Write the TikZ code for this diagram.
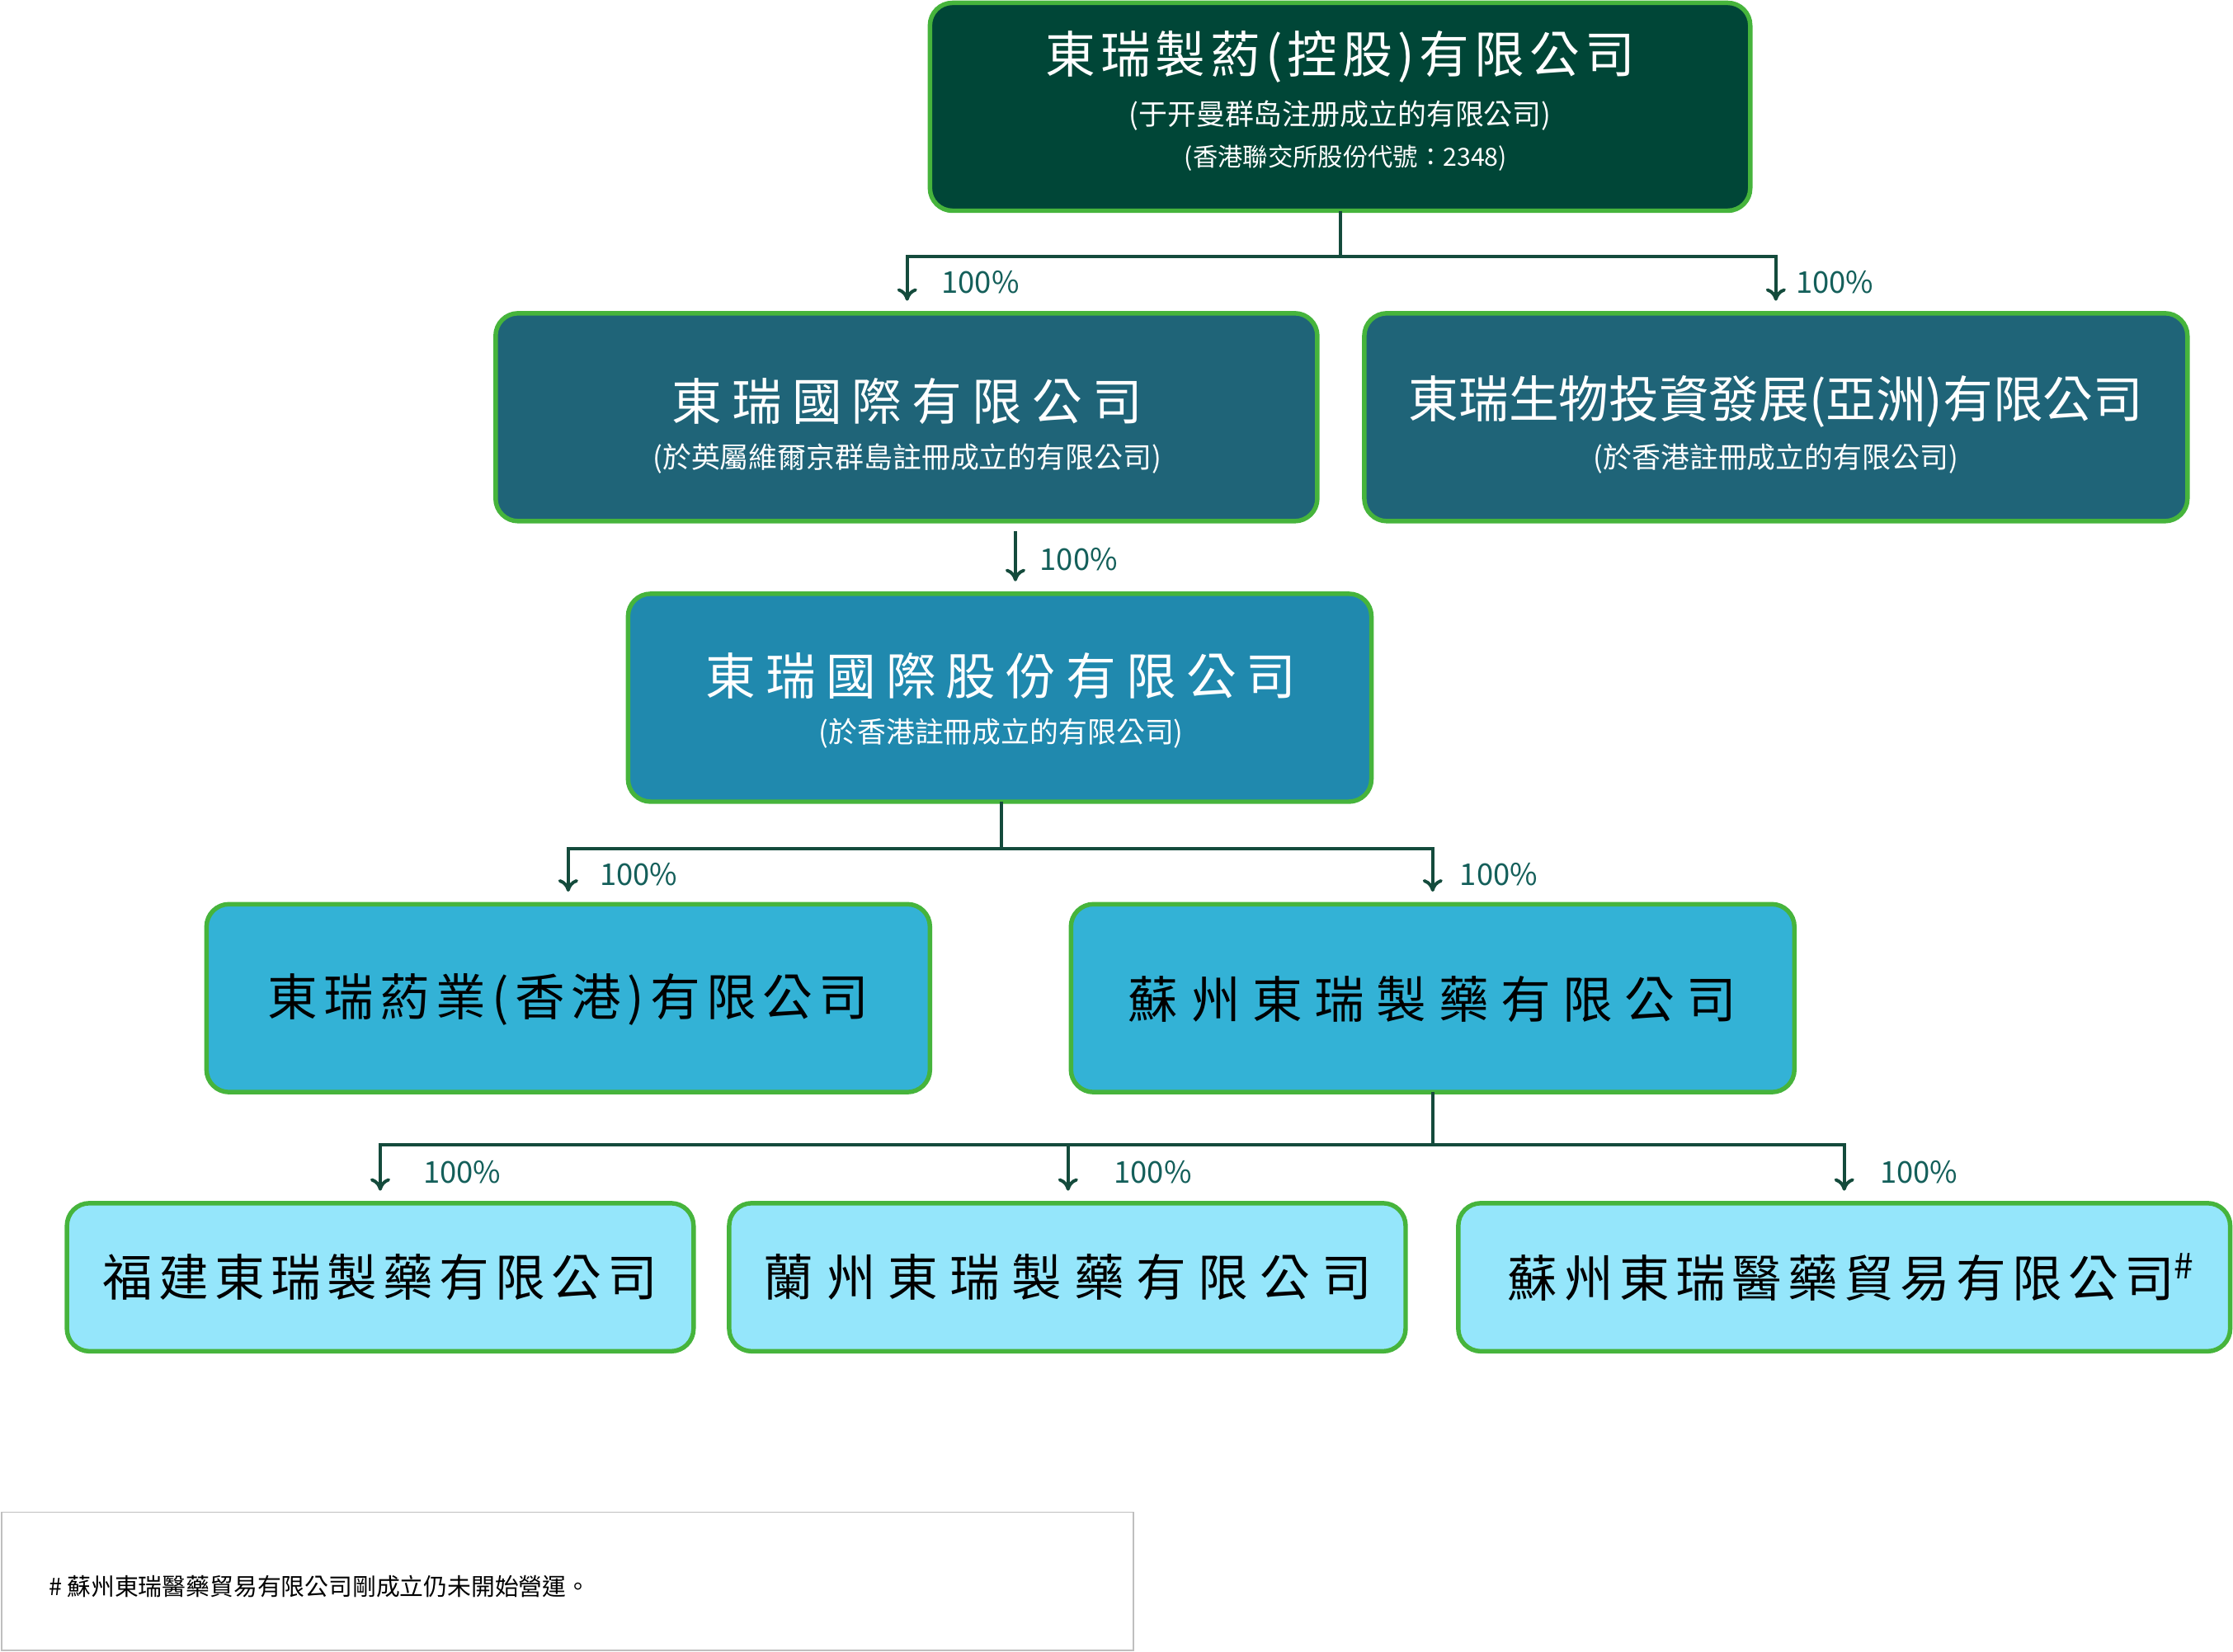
\documentclass[tikz,border=0pt]{standalone}
\usepackage{fontspec}
\newfontfamily\cjk{Noto Sans CJK TC}
\newfontfamily\cjkwide[LetterSpace=24]{Noto Sans CJK TC}
\newfontfamily\cjkmid[LetterSpace=20]{Noto Sans CJK TC}
\newfontfamily\cjksome[LetterSpace=12]{Noto Sans CJK TC}
\newfontfamily\cjktop[LetterSpace=10]{Noto Sans CJK TC}
\setmainfont{Noto Sans CJK TC}
\usetikzlibrary{arrows.meta}

\definecolor{lvA}{RGB}{0,70,55}
\definecolor{lvB}{RGB}{31,100,120}
\definecolor{lvC}{RGB}{32,137,174}
\definecolor{lvD}{RGB}{51,178,214}
\definecolor{lvE}{RGB}{149,230,251}
\definecolor{rim}{RGB}{70,180,60}
\definecolor{wire}{RGB}{20,75,60}
\definecolor{pct}{RGB}{20,95,90}

\tikzset{
  corp/.style={draw=rim, line width=1.8pt, rounded corners=9pt, align=center},
  arr/.style={draw=wire, line width=1.3pt, -{To[length=5pt,width=8pt]}, shorten >=5pt},
  wire/.style={draw=wire, line width=1.3pt},
  share/.style={text=pct, font=\cjk\fontsize{12}{12}\selectfont, anchor=west},
}

\begin{document}
\begin{tikzpicture}[x=0.02cm, y=-0.02cm]
  \useasboundingbox (0,0) rectangle (1568,1160);

  % Level 1
  \draw[corp, fill=lvA] (653,2) rectangle (1229,148);
  \node[text=white] at (941,40) {\cjktop\fontsize{20}{24}\selectfont 東瑞製葯(控股)有限公司};
  \node[text=white] at (941,81) {\cjk\fontsize{11.5}{14}\selectfont (于开曼群岛注册成立的有限公司)};
  \node[text=white] at (945,111) {\cjk\fontsize{10}{12}\selectfont (香港聯交所股份代號：2348)};
  \coordinate (topS) at (941,148);

  % Level 2
  \draw[corp, fill=lvB] (348,220) rectangle (925,366);
  \node[text=white] at (637,282) {\cjkmid\fontsize{20}{24}\selectfont 東瑞國際有限公司};
  \node[text=white] at (637,322) {\cjk\fontsize{11.5}{14}\selectfont (於英屬維爾京群島註冊成立的有限公司)};
  \coordinate (intlN) at (637,220);
  \coordinate (intlS) at (713,366);
  \draw[corp, fill=lvB] (958,220) rectangle (1536,366);
  \node[text=white] at (1247,282) {\cjk\fontsize{20}{24}\selectfont 東瑞生物投資發展(亞洲)有限公司};
  \node[text=white] at (1247,322) {\cjk\fontsize{11.5}{14}\selectfont (於香港註冊成立的有限公司)};
  \coordinate (bioN) at (1247,220);

  % Level 3
  \draw[corp, fill=lvC] (441,417) rectangle (963,563);
  \node[text=white] at (703,475) {\cjkmid\fontsize{20}{24}\selectfont 東瑞國際股份有限公司};
  \node[text=white] at (703,515) {\cjk\fontsize{11.5}{14}\selectfont (於香港註冊成立的有限公司)};
  \coordinate (shareN) at (713,417);
  \coordinate (shareS) at (703,563);

  % Level 4
  \draw[corp, fill=lvD] (145,635) rectangle (653,767);
  \node at (399,702) {\cjksome\fontsize{20}{24}\selectfont 東瑞葯業(香港)有限公司};
  \coordinate (hkN) at (399,635);
  \draw[corp, fill=lvD] (752,635) rectangle (1260,767);
  \node at (1006,702) {\cjkwide\fontsize{20}{24}\selectfont 蘇州東瑞製藥有限公司};
  \coordinate (szN) at (1006,635);
  \coordinate (szS) at (1006,767);

  % Level 5
  \draw[corp, fill=lvE] (47,845) rectangle (487,949);
  \node at (267,897) {\cjksome\fontsize{20}{24}\selectfont 福建東瑞製藥有限公司};
  \coordinate (fjN) at (267,845);
  \draw[corp, fill=lvE] (512,845) rectangle (987,949);
  \node at (750,897) {\cjkwide\fontsize{20}{24}\selectfont 蘭州東瑞製藥有限公司};
  \coordinate (lzN) at (750,845);
  \draw[corp, fill=lvE] (1024,845) rectangle (1566,949);
  \node at (1300,897) {\cjksome\fontsize{20}{24}\selectfont 蘇州東瑞醫藥貿易有限公司$^{\#}$};
  \coordinate (trN) at (1295,845);

  % connectors
  \draw[wire] (topS) -- (941,180) coordinate (j1);
  \draw[arr] (j1) -| (intlN);
  \draw[arr] (j1) -| (bioN);
  \draw[arr] ([yshift=-4]intlS) -- (shareN);
  \draw[wire] (shareS) -- (703,596) coordinate (j2);
  \draw[arr] (j2) -| (hkN);
  \draw[arr] (j2) -| (szN);
  \draw[wire] (szS) -- (1006,804) coordinate (j3);
  \draw[arr] (j3) -| (fjN);
  \draw[arr] (j3) -| (lzN);
  \draw[arr] (j3) -| (trN);

  % shares
  \node[share] at (655,198) {100\%};
  \node[share] at (1255,198) {100\%};
  \node[share] at (724,393) {100\%};
  \node[share] at (415,614) {100\%};
  \node[share] at (1019,614) {100\%};
  \node[share] at (291,823) {100\%};
  \node[share] at (776,823) {100\%};
  \node[share] at (1314,823) {100\%};

  % footnote
  \draw[draw=black!25, line width=0.6pt] (1,1062) rectangle (796,1159);
  \node[anchor=west] at (28,1114) {\cjk\fontsize{9.5}{12}\selectfont \# 蘇州東瑞醫藥貿易有限公司剛成立仍未開始營運。};
\end{tikzpicture}
\end{document}
